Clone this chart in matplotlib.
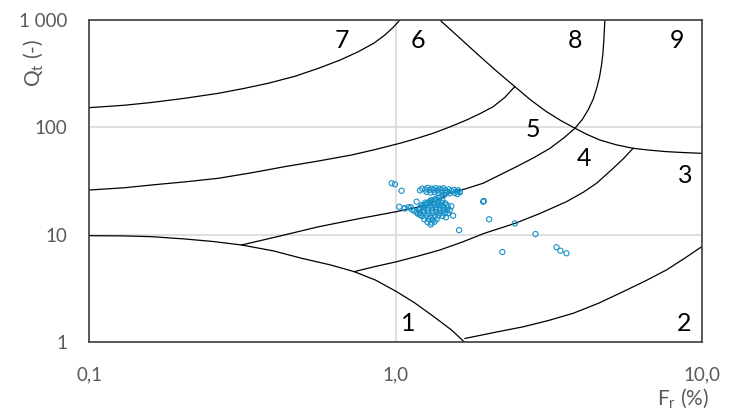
import matplotlib
matplotlib.use('Agg')
import matplotlib.pyplot as plt

plt.rcParams['font.family'] = ['Lato', 'DejaVu Sans']
plt.rcParams['mathtext.fontset'] = 'custom'
plt.rcParams['mathtext.rm'] = 'Lato'
plt.rcParams['mathtext.it'] = 'Lato:italic'

# zone boundaries (Fr %, Qt -)
b67_fr = [0.1, 0.13, 0.160, 0.205, 0.264, 0.32, 0.384, 0.47, 0.559, 0.66, 0.755, 0.85, 0.922, 0.98, 1.032]
b67_qt = [153, 161, 171, 187, 208, 231, 258, 300, 355, 425, 507, 610, 725, 850, 1000]

b56_fr = [0.1, 0.13, 0.160, 0.205, 0.264, 0.34, 0.434, 0.56, 0.718, 0.86, 1.032, 1.17, 1.324, 1.50, 1.704, 1.89, 2.080, 2.27, 2.448]
b56_qt = [26.2, 27.5, 29.2, 31.2, 33.7, 38.0, 43.2, 48.8, 55.5, 62.5, 71.3, 79.0, 88.3, 101, 117.4, 135, 156, 190, 240]

cross_fr = [1.393, 1.60, 1.836, 2.12, 2.448, 2.76, 3.11, 3.46, 3.85, 4.22, 4.64, 5.25, 5.96, 6.75, 7.66, 8.75, 9.98]
cross_qt = [1000, 700, 490, 340, 240, 180, 140, 116, 98.3, 86.0, 76.5, 69.0, 64.0, 61.5, 59.6, 58.4, 57.5]

b89_fr = [4.82, 4.80, 4.78, 4.75, 4.70, 4.63, 4.53, 4.41, 4.25, 4.07, 3.85, 3.53, 3.19, 2.83, 2.48, 2.18, 1.93,
          1.70, 1.50, 1.276, 1.007, 0.76, 0.558, 0.42, 0.314]
b89_qt = [1000, 800, 628, 490, 381, 295, 231, 182, 146, 119, 98.3, 79.5, 64.0, 52.5, 43.2, 36.0, 30.3,
          27.0, 24.4, 19.0, 16.5, 14.2, 11.9, 9.8, 8.07]

b1_fr = [0.1, 0.130, 0.160, 0.205, 0.255, 0.314, 0.40, 0.493, 0.61, 0.732, 0.86, 1.007, 1.15, 1.31, 1.52, 1.683]
b1_qt = [9.85, 9.80, 9.64, 9.18, 8.68, 8.07, 7.10, 6.07, 5.28, 4.56, 3.80, 2.97, 2.35, 1.80, 1.31, 1.0]

b34_fr = [0.732, 0.86, 1.007, 1.18, 1.394, 1.65, 1.954, 2.20, 2.448, 2.95, 3.61, 4.10, 4.53, 5.13, 5.55, 5.96]
b34_qt = [4.56, 5.10, 5.64, 6.35, 7.25, 8.60, 10.4, 11.6, 12.8, 15.8, 20.4, 25.0, 30.3, 41.7, 51.5, 64.0]

b23_fr = [1.683, 2.10, 2.61, 3.15, 3.80, 4.60, 5.53, 6.55, 7.66, 8.80, 9.98]
b23_qt = [1.09, 1.24, 1.40, 1.60, 1.87, 2.32, 2.97, 3.75, 4.73, 6.10, 7.78]

zone_names = ['1', '2', '3', '4', '5', '6', '7', '8', '9']
zone_fr = [1.10, 8.75, 8.85, 4.13, 2.81, 1.18, 0.667, 3.85, 8.26]
zone_qt = [1.51, 1.51, 36.1, 51.7, 94.8, 651, 651, 651, 651]

# CPT points
pts_fr = [
    0.970, 0.994, 1.045, 1.027, 1.071, 1.121, 1.17, 1.54, 1.61, 1.62,
    1.94, 1.93, 2.02, 2.23, 2.45, 2.86, 3.35, 3.45, 3.61,
    1.20, 1.22, 1.25, 1.27, 1.29, 1.31, 1.33, 1.35, 1.37, 1.39,
    1.41, 1.43, 1.45, 1.47, 1.49, 1.52, 1.55, 1.58, 1.60, 1.62,
    1.26, 1.30, 1.34, 1.38, 1.42, 1.46, 1.50, 1.56, 1.59,
    1.44, 1.41, 1.38, 1.35, 1.32, 1.29, 1.27, 1.25, 1.23,
    1.10, 1.07, 1.13, 1.15, 1.17, 1.18, 1.20,
    1.30, 1.34, 1.38, 1.42,
    1.25, 1.29, 1.33, 1.37, 1.41, 1.45,
    1.22, 1.26, 1.30, 1.34, 1.38, 1.42, 1.47,
    1.20, 1.24, 1.28, 1.32, 1.36, 1.40, 1.44, 1.48,
    1.19, 1.23, 1.27, 1.31, 1.35, 1.39, 1.43, 1.47,
    1.20, 1.24, 1.28, 1.32, 1.36, 1.40, 1.45,
    1.22, 1.26, 1.30, 1.34, 1.38, 1.42,
    1.24, 1.28, 1.32, 1.36,
    1.27, 1.31, 1.34, 1.30,
    1.50, 1.48, 1.52, 1.46,
]
pts_qt = [
    30.3, 29.6, 25.8, 18.3, 17.7, 18.1, 20.4, 15.1, 11.1, 25.3,
    20.7, 20.4, 14.0, 6.95, 12.8, 10.2, 7.69, 7.14, 6.76,
    26.0, 27.0, 26.5, 27.4, 26.2, 27.0, 26.4, 27.3, 26.0, 27.0,
    26.3, 27.2, 26.0, 25.4, 26.6, 25.6, 26.3, 25.4, 26.0, 25.0,
    25.2, 24.8, 25.0, 24.6, 24.9, 24.5, 24.4, 24.6, 24.0,
    23.5, 22.8, 22.2, 21.6, 21.0, 20.4, 19.8, 19.2, 18.6,
    18.1, 17.7, 17.2, 16.8, 16.3, 15.8, 15.4,
    21.0, 21.2, 20.8, 21.0,
    20.0, 19.8, 20.1, 19.9, 20.0, 19.7,
    19.0, 19.1, 18.9, 19.0, 19.2, 18.8, 19.0,
    18.0, 18.1, 17.9, 18.0, 18.2, 17.9, 18.0, 18.1,
    17.0, 17.1, 16.9, 17.0, 17.2, 16.9, 17.0, 17.1,
    16.0, 16.1, 15.9, 16.0, 16.2, 15.9, 16.0,
    15.0, 15.1, 14.9, 15.0, 15.2, 15.0,
    14.0, 14.1, 13.9, 14.0,
    13.2, 13.0, 13.3, 12.5,
    17.0, 15.9, 18.5, 14.6,
]

fig = plt.figure(figsize=(7.45, 4.11), dpi=100)
ax = fig.add_axes([0.1201, 0.1667, 0.8221, 0.7847])
ax.set_xscale('log')
ax.set_yscale('log')
ax.set_xlim(0.1, 10)
ax.set_ylim(1, 1000)

ax.set_xticks([0.1, 1, 10])
ax.set_xticklabels(['0,1', '1,0', '10,0'])
ax.set_yticks([1, 10, 100, 1000])
ax.set_yticklabels(['1', '10', '100', '1\u00a0000'])
ax.minorticks_off()
ax.tick_params(length=0, labelsize=13.5, labelcolor='#595959')
ax.tick_params(axis='x', pad=17)
ax.tick_params(axis='y', pad=16)

ax.grid(True, color='#d9d9d9', linewidth=1.2, zorder=0)
for s in ax.spines.values():
    s.set_color('#404040')
    s.set_linewidth(1.2)

for fr, qt in [(b67_fr, b67_qt), (b56_fr, b56_qt), (cross_fr, cross_qt),
               (b89_fr, b89_qt), (b1_fr, b1_qt), (b34_fr, b34_qt),
               (b23_fr, b23_qt)]:
    ax.plot(fr, qt, color='black', linewidth=0.9, zorder=2)

ax.scatter(pts_fr, pts_qt, s=14, facecolors='none', edgecolors='#1790c8',
           linewidths=0.8, zorder=3)

for name, fr, qt in zip(zone_names, zone_fr, zone_qt):
    ax.text(fr, qt, name, fontsize=18, ha='center', va='center', color='black')

fig.text(0.0443, 0.847, r'Q$_\mathrm{t}$ (-)', rotation=90, fontsize=15,
         color='#595959', ha='center', va='center')
fig.text(0.9168, 0.030, r'F$_\mathrm{r}$ (%)', fontsize=15,
         color='#595959', ha='center', va='center')

fig.savefig('out.png', dpi=100)
